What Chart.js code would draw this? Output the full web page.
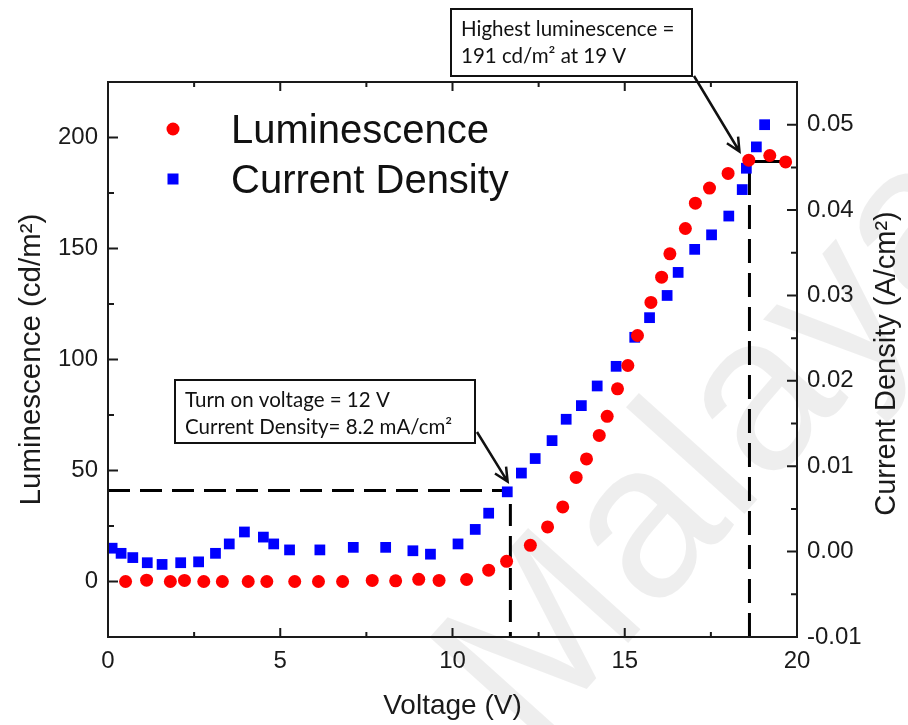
<!DOCTYPE html>
<html>
<head>
<meta charset="utf-8">
<title>Luminescence and current density vs voltage</title>
<script src="https://cdn.jsdelivr.net/npm/chart.js@4.4.1/dist/chart.umd.min.js"></script>
<style>
  html, body { margin: 0; padding: 0; background: #fff; }
  canvas { display: block; }
</style>
</head>
<body>
<canvas id="lvChart" width="908" height="725"></canvas>
<script>
// Luminescence (cd/m2) vs voltage (V)
const lumVoltage = [0.51, 1.12, 1.81, 2.22, 2.78, 3.32, 4.07, 4.61, 5.42, 6.11, 6.81, 7.67, 8.35, 9.02, 9.61, 10.41,
  11.05, 11.57, 12.26, 12.76, 13.20, 13.59, 13.89, 14.26, 14.49, 14.79, 15.09, 15.37, 15.76, 16.07, 16.31, 16.76,
  17.05, 17.46, 18.00, 18.60, 19.21, 19.67];
const luminescence = [0, 0.6, 0, 0.5, 0, 0, 0, 0, 0, 0, 0, 0.5, 0.3, 1.0, 0.5, 0.9,
  5.1, 9.1, 16.3, 24.6, 33.6, 46.9, 55.2, 65.8, 74.4, 86.8, 97.3, 110.8, 125.7, 137.1, 147.6, 159.0,
  170.4, 177.2, 183.8, 189.8, 191.9, 189.0];

// Current density (A/cm2) vs voltage (V)
const cdVoltage = [0.12, 0.38, 0.72, 1.14, 1.57, 2.11, 2.63, 3.12, 3.52, 3.96, 4.51, 4.81, 5.27, 6.15, 7.12, 8.06,
  8.85, 9.36, 10.16, 10.66, 11.05, 11.59, 12.00, 12.40, 12.89, 13.30, 13.74, 14.20, 14.75, 15.29, 15.72, 16.23,
  16.55, 17.03, 17.52, 18.02, 18.41, 18.53, 18.82, 19.06];
const currentDensity = [0.0004, -0.0002, -0.0007, -0.0013, -0.0015, -0.0013, -0.0012, -0.0002, 0.0009, 0.0023,
  0.0017, 0.0009, 0.0002, 0.0002, 0.0005, 0.0005, 0.0001, -0.0003, 0.0009, 0.0026, 0.0045, 0.0070, 0.0092,
  0.0109, 0.0130, 0.0155, 0.0171, 0.0194, 0.0217, 0.0251, 0.0274, 0.0300, 0.0327, 0.0354, 0.0371, 0.0393,
  0.0424, 0.0449, 0.0474, 0.0500];

// Guide lines (data units, left axis)
const turnOnGuideV = [0, 11.68, 11.68];
const turnOnGuideL = [41, 41, -25];
const peakGuideV = [18.62, 18.62];
const peakGuideL = [-25, 189.2];
const peakCapV = [18.62, 19.8];
const peakCapL = [189.2, 189.2];

// Tick labels
const voltageTicks = [0, 5, 10, 15, 20];
const lumTicks = [0, 50, 100, 150, 200];
const cdTicks = [-0.01, 0.00, 0.01, 0.02, 0.03, 0.04, 0.05];

// Text
const legendLabels = ['Luminescence', 'Current Density'];
const peakNote = ['Highest luminescence =', '191 cd/m\u00B2 at 19 V'];
const turnOnNote = ['Turn on voltage = 12 V', 'Current Density= 8.2 mA/cm\u00B2'];
const peakArrowTip = { x: 18.33, y: 193.7 };
const turnOnArrowTip = { x: 11.6, y: 45 };

const toPoints = (xs, ys) => xs.map((x, i) => ({ x: x, y: ys[i] }));

const FONT = "'Liberation Sans', Arial, sans-serif";
const NOTE_FONT = "Lato, 'Open Sans', sans-serif";

Chart.defaults.font.family = FONT;
Chart.defaults.color = '#1a1a1a';

const guide = (xs, ys, dash) => ({
  type: 'line',
  data: toPoints(xs, ys),
  yAxisID: 'y',
  showLine: true,
  borderColor: '#000',
  borderWidth: 3,
  borderDash: dash,
  pointRadius: 0,
  fill: false,
  tension: 0
});

// Inward tick marks + frame, like the Origin plot
const frameTicks = {
  id: 'frameTicks',
  afterDatasetsDraw(chart) {
    const { ctx, chartArea: a, scales } = chart;
    ctx.save();
    ctx.strokeStyle = '#1a1a1a';
    ctx.lineWidth = 2;
    ctx.strokeRect(a.left, a.top, a.right - a.left, a.bottom - a.top);

    const mids = (arr) => arr.slice(1).map((v, i) => (v + arr[i]) / 2);
    ctx.beginPath();
    // x: bottom and top
    voltageTicks.forEach(v => {
      const px = scales.x.getPixelForValue(v);
      ctx.moveTo(px, a.bottom); ctx.lineTo(px, a.bottom - 9);
      ctx.moveTo(px, a.top); ctx.lineTo(px, a.top + 9);
    });
    mids(voltageTicks).forEach(v => {
      const px = scales.x.getPixelForValue(v);
      ctx.moveTo(px, a.bottom); ctx.lineTo(px, a.bottom - 5);
      ctx.moveTo(px, a.top); ctx.lineTo(px, a.top + 5);
    });
    // left axis
    lumTicks.forEach(v => {
      const py = scales.y.getPixelForValue(v);
      ctx.moveTo(a.left, py); ctx.lineTo(a.left + 10, py);
    });
    mids(lumTicks).forEach(v => {
      const py = scales.y.getPixelForValue(v);
      ctx.moveTo(a.left, py); ctx.lineTo(a.left + 6, py);
    });
    // right axis
    cdTicks.forEach(v => {
      const py = scales.y2.getPixelForValue(v);
      ctx.moveTo(a.right, py); ctx.lineTo(a.right - 10, py);
    });
    mids(cdTicks).forEach(v => {
      const py = scales.y2.getPixelForValue(v);
      ctx.moveTo(a.right, py); ctx.lineTo(a.right - 6, py);
    });
    ctx.stroke();
    ctx.restore();
  }
};

const drawArrow = (ctx, x0, y0, x1, y1) => {
  const ang = Math.atan2(y1 - y0, x1 - x0);
  const head = 15;
  ctx.beginPath();
  ctx.moveTo(x0, y0);
  ctx.lineTo(x1, y1);
  ctx.moveTo(x1 - head * Math.cos(ang - 0.45), y1 - head * Math.sin(ang - 0.45));
  ctx.lineTo(x1, y1);
  ctx.lineTo(x1 - head * Math.cos(ang + 0.45), y1 - head * Math.sin(ang + 0.45));
  ctx.stroke();
};

const drawNote = (ctx, lines, left, top, width, height, textX, firstY, lineGap) => {
  ctx.fillStyle = '#fff';
  ctx.fillRect(left, top, width, height);
  ctx.strokeStyle = '#111';
  ctx.lineWidth = 2;
  ctx.strokeRect(left, top, width, height);
  ctx.fillStyle = '#111';
  ctx.font = '20.5px ' + NOTE_FONT;
  ctx.textAlign = 'left';
  ctx.textBaseline = 'alphabetic';
  lines.forEach((t, i) => ctx.fillText(t, textX, firstY + i * lineGap));
};

const decorations = {
  id: 'decorations',
  beforeDraw(chart) {
    const { ctx } = chart;
    ctx.save();
    ctx.fillStyle = '#fff';
    ctx.fillRect(0, 0, chart.width, chart.height);
    // faint "Malaya" watermark
    ctx.translate(530, 752);
    ctx.rotate(-48 * Math.PI / 180);
    ctx.font = '220px ' + FONT;
    ctx.fillStyle = 'rgba(0, 0, 0, 0.065)';
    ctx.textBaseline = 'alphabetic';
    ctx.fillText('Malaya', 0, 0);
    ctx.restore();
  },
  afterDraw(chart) {
    const { ctx, scales } = chart;
    const lum = chart.data.datasets[0];
    const cd = chart.data.datasets[1];
    ctx.save();

    // legend
    ctx.fillStyle = lum.backgroundColor;
    ctx.beginPath();
    ctx.arc(173, 129, 6.5, 0, Math.PI * 2);
    ctx.fill();
    ctx.fillStyle = cd.backgroundColor;
    ctx.fillRect(167.5, 173.5, 11, 11);
    ctx.fillStyle = '#111';
    ctx.font = '40px ' + FONT;
    ctx.textBaseline = 'alphabetic';
    ctx.fillText(legendLabels[0], 231, 143);
    ctx.fillText(legendLabels[1], 231, 193);

    // right axis title, reads bottom to top
    ctx.save();
    ctx.translate(887, (chart.chartArea.top + chart.chartArea.bottom) / 2 + 4);
    ctx.rotate(-Math.PI / 2);
    ctx.font = '29px ' + FONT;
    ctx.fillStyle = '#1a1a1a';
    ctx.textAlign = 'center';
    ctx.textBaseline = 'middle';
    ctx.fillText('Current Density (A/cm\u00B2)', 0, 0);
    ctx.restore();

    // annotation boxes and arrows
    ctx.strokeStyle = '#111';
    ctx.lineWidth = 2.5;
    drawArrow(ctx, 694, 76, scales.x.getPixelForValue(peakArrowTip.x), scales.y.getPixelForValue(peakArrowTip.y));
    drawArrow(ctx, 477, 432, scales.x.getPixelForValue(turnOnArrowTip.x), scales.y.getPixelForValue(turnOnArrowTip.y));
    drawNote(ctx, peakNote, 451, 9, 241, 67, 461, 36, 27);
    drawNote(ctx, turnOnNote, 175, 380, 300, 63, 185, 407, 27);
    ctx.restore();
  }
};

const chart = new Chart(document.getElementById('lvChart'), {
  type: 'scatter',
  data: {
    datasets: [
      {
        label: legendLabels[0],
        data: toPoints(lumVoltage, luminescence),
        yAxisID: 'y',
        pointStyle: 'circle',
        pointRadius: 6.5,
        borderWidth: 0,
        backgroundColor: '#ff0000',
        borderColor: '#ff0000'
      },
      {
        label: legendLabels[1],
        data: toPoints(cdVoltage, currentDensity),
        yAxisID: 'y2',
        pointStyle: 'rect',
        pointRadius: 7.6,
        borderWidth: 0,
        backgroundColor: '#0000ff',
        borderColor: '#0000ff'
      },
      guide(turnOnGuideV, turnOnGuideL, [22, 10]),
      guide(peakGuideV, peakGuideL, [24, 10]),
      guide(peakCapV, peakCapL, [])
    ]
  },
  options: {
    responsive: false,
    animation: false,
    layout: { padding: { top: 82, left: 0, right: 0, bottom: 0 } },
    plugins: {
      legend: { display: false },
      tooltip: { enabled: false }
    },
    scales: {
      x: {
        type: 'linear',
        min: 0,
        max: 20,
        afterFit: (s) => { s.height = 88; },
        afterBuildTicks: (s) => { s.ticks = voltageTicks.map(v => ({ value: v })); },
        grid: { display: false, drawTicks: false },
        border: { display: false },
        ticks: { padding: 10, font: { size: 24 } },
        title: { display: true, text: 'Voltage (V)', font: { size: 28 }, padding: { top: 0, bottom: 2 } }
      },
      y: {
        position: 'left',
        min: -25,
        max: 225,
        afterFit: (s) => { s.width = 108; },
        afterBuildTicks: (s) => { s.ticks = lumTicks.map(v => ({ value: v })); },
        grid: { display: false, drawTicks: false },
        border: { display: false },
        ticks: { padding: 10, font: { size: 24 } },
        title: { display: true, text: 'Luminescence (cd/m\u00B2)', font: { size: 29.5 }, padding: { top: 14, bottom: 0 } }
      },
      y2: {
        position: 'right',
        min: -0.01,
        max: 0.055,
        afterFit: (s) => { s.width = 111; },
        afterBuildTicks: (s) => { s.ticks = cdTicks.map(v => ({ value: v })); },
        grid: { display: false, drawTicks: false },
        border: { display: false },
        ticks: { padding: 10, font: { size: 24 }, callback: (v) => v.toFixed(2) }
      }
    }
  },
  plugins: [decorations, frameTicks]
});
</script>
</body>
</html>
